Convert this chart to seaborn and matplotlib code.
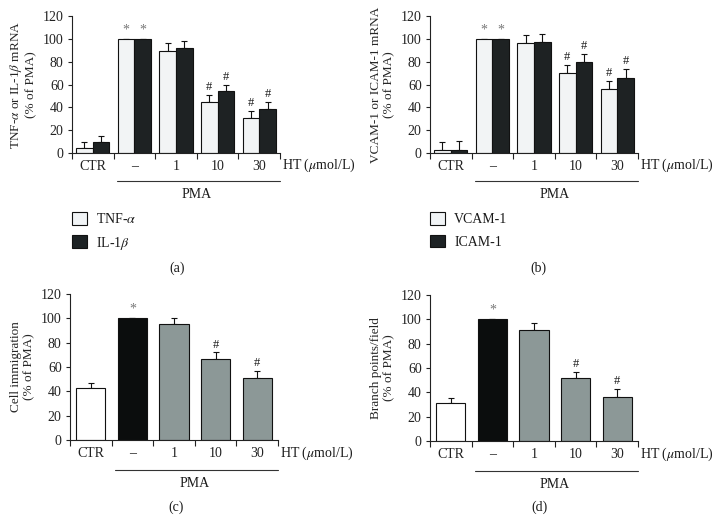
import matplotlib
matplotlib.use("Agg")
import matplotlib.pyplot as plt
import seaborn as sns
import pandas as pd
import numpy as np
from matplotlib.patches import Patch

# ---------------- data ----------------
doses = ["CTR", "–", "1", "10", "30"]

tnf_vals = [4.5, 100, 89, 45, 31]
tnf_err = [5, 0, 7, 6, 6]
il1b_vals = [9.5, 100, 92, 54, 38.5]
il1b_err = [5, 0, 6, 6, 6]
marks_a_tnf = ["", "*", "", "#", "#"]
marks_a_il = ["", "*", "", "#", "#"]

vcam_vals = [2.5, 100, 96, 70, 56]
vcam_err = [7, 0, 7, 7, 7]
icam_vals = [3, 100, 97, 80, 66]
icam_err = [7.5, 0, 7.5, 7, 7.5]
marks_b_v = ["", "*", "", "#", "#"]
marks_b_i = ["", "*", "", "#", "#"]

migr_vals = [42.5, 100, 95.5, 66.5, 51]
migr_err = [4.7, 0, 4.7, 5.5, 5.8]
marks_c = ["", "*", "", "#", "#"]

branch_vals = [31, 100, 91.5, 51.5, 36.5]
branch_err = [4.5, 0, 5.8, 5.5, 6.2]
marks_d = ["", "*", "", "#", "#"]

# ---------------- style ----------------
sns.set_theme(style="ticks")
plt.rcParams["font.family"] = ["Liberation Serif", "DejaVu Serif"]
plt.rcParams["mathtext.fontset"] = "stix"
plt.rcParams["axes.linewidth"] = 0.8
plt.rcParams["axes.edgecolor"] = "#222222"
plt.rcParams["xtick.color"] = "#222222"
plt.rcParams["ytick.color"] = "#222222"
plt.rcParams["text.color"] = "#1a1a1a"

LIGHT = "#f1f4f6"
DARK = "#1d2224"
GREYTEAL = "#8a9a98"
BLACK = "#0b0d0d"
WHITE = "#ffffff"

W, H = 722, 532
fig = plt.figure(figsize=(W / 100, H / 100), dpi=100)


def axes_px(left, right, top, bottom):
    return fig.add_axes([left / W, 1 - bottom / H, (right - left) / W, (bottom - top) / H])


def finish_axes(ax, ylabel):
    ax.set_ylim(0, 120)
    ax.set_xlim(-0.5, 4.5)
    ax.set_yticks([0, 20, 40, 60, 80, 100, 120])
    ax.tick_params(axis="y", labelsize=10, length=3, width=0.8, pad=3)
    ax.set_xticks(np.arange(-0.5, 5.0, 1.0))
    ax.set_xticklabels([""] * 6)
    ax.set_xticks(np.arange(5), minor=True)
    ax.set_xticklabels(doses, minor=True, fontsize=10)
    ax.tick_params(axis="x", which="major", length=4, width=0.8)
    ax.tick_params(axis="x", which="minor", length=0, pad=5)
    ax.set_xlabel("")
    ax.set_ylabel(ylabel, fontsize=9.5, linespacing=1.15, labelpad=4)
    sns.despine(ax=ax)
    ax.text(4.55, -0.09, r"HT ($\mu$mol/L)", transform=ax.get_xaxis_transform(),
            ha="left", va="center", fontsize=10)
    ax.plot([0.58, 4.5], [-0.205, -0.205], transform=ax.get_xaxis_transform(),
            color="#333333", lw=0.8, clip_on=False)
    ax.text(2.5, -0.30, "PMA", transform=ax.get_xaxis_transform(),
            ha="center", va="center", fontsize=10)


def add_errors_and_marks(ax, rects, vals, errs, marks):
    xs = [r.get_x() + r.get_width() / 2 for r in rects]
    ax.errorbar(xs, vals, yerr=[np.zeros(len(vals)), errs], fmt="none",
                ecolor="#111111", elinewidth=0.8, capsize=2.4, capthick=0.8, zorder=1)
    for x, v, e, m in zip(xs, vals, errs, marks):
        if m == "*":
            ax.text(x, v + 2.0, m, ha="center", va="bottom", fontsize=10, color="#777777")
        elif m == "#":
            ax.text(x, v + e + 1.5, m, ha="center", va="bottom", fontsize=9)


def paired_panel(ax, vals1, errs1, vals2, errs2, names, marks1, marks2, ylabel):
    df = pd.DataFrame({
        "dose": doses * 2,
        "value": list(vals1) + list(vals2),
        "series": [names[0]] * 5 + [names[1]] * 5,
    })
    sns.barplot(data=df, x="dose", y="value", hue="series", order=doses,
                hue_order=names, palette=[LIGHT, DARK], edgecolor="#111111",
                linewidth=0.8, errorbar=None, width=0.8, ax=ax, legend=False, zorder=2)
    conts = ax.containers
    r1 = sorted(list(conts[0]), key=lambda r: r.get_x())
    r2 = sorted(list(conts[1]), key=lambda r: r.get_x())
    add_errors_and_marks(ax, r1, vals1, errs1, marks1)
    add_errors_and_marks(ax, r2, vals2, errs2, marks2)
    finish_axes(ax, ylabel)
    handles = [Patch(facecolor=LIGHT, edgecolor="#111111", linewidth=0.8),
               Patch(facecolor=DARK, edgecolor="#111111", linewidth=0.8)]
    return handles


def single_panel(ax, vals, errs, marks, ylabel):
    df = pd.DataFrame({"dose": doses, "value": vals})
    sns.barplot(data=df, x="dose", y="value", hue="dose", order=doses, hue_order=doses,
                palette=[WHITE, BLACK, GREYTEAL, GREYTEAL, GREYTEAL], edgecolor="#111111",
                linewidth=0.8, errorbar=None, width=0.7, ax=ax, legend=False, zorder=2)
    rects = sorted([r for c in ax.containers for r in c], key=lambda r: r.get_x())
    add_errors_and_marks(ax, rects, vals, errs, marks)
    finish_axes(ax, ylabel)


LEG_KW = dict(loc="upper left", frameon=False, fontsize=10, borderpad=0,
              borderaxespad=0, handlelength=1.05, handleheight=1.05,
              labelspacing=0.6, handletextpad=0.7)

# panel a
ax_a = axes_px(72, 280, 16, 153)
h_a = paired_panel(ax_a, tnf_vals, tnf_err, il1b_vals, il1b_err,
                   ["TNF-α", "IL-1β"], marks_a_tnf, marks_a_il,
                   "TNF-$\\alpha$ or IL-1$\\beta$ mRNA\n(% of PMA)")
fig.legend(h_a, [r"TNF-$\alpha$", r"IL-1$\beta$"],
           bbox_to_anchor=(72 / W, 1 - 212 / H), **LEG_KW)

# panel b
ax_b = axes_px(430, 638, 16, 153)
h_b = paired_panel(ax_b, vcam_vals, vcam_err, icam_vals, icam_err,
                   ["VCAM-1", "ICAM-1"], marks_b_v, marks_b_i,
                   "VCAM-1 or ICAM-1 mRNA\n(% of PMA)")
fig.legend(h_b, ["VCAM-1", "ICAM-1"],
           bbox_to_anchor=(430 / W, 1 - 212 / H), **LEG_KW)

# panel c
ax_c = axes_px(70, 278, 294, 440)
single_panel(ax_c, migr_vals, migr_err, marks_c, "Cell immigration\n(% of PMA)")

# panel d
ax_d = axes_px(430, 638, 295, 441)
single_panel(ax_d, branch_vals, branch_err, marks_d, "Branch points/field\n(% of PMA)")

# panel letters
for lbl, x, y in [("(a)", 177, 268), ("(b)", 538, 268), ("(c)", 176, 507), ("(d)", 539, 507)]:
    fig.text(x / W, 1 - y / H, lbl, ha="center", va="center", fontsize=10)

fig.savefig("out.png", dpi=100)
